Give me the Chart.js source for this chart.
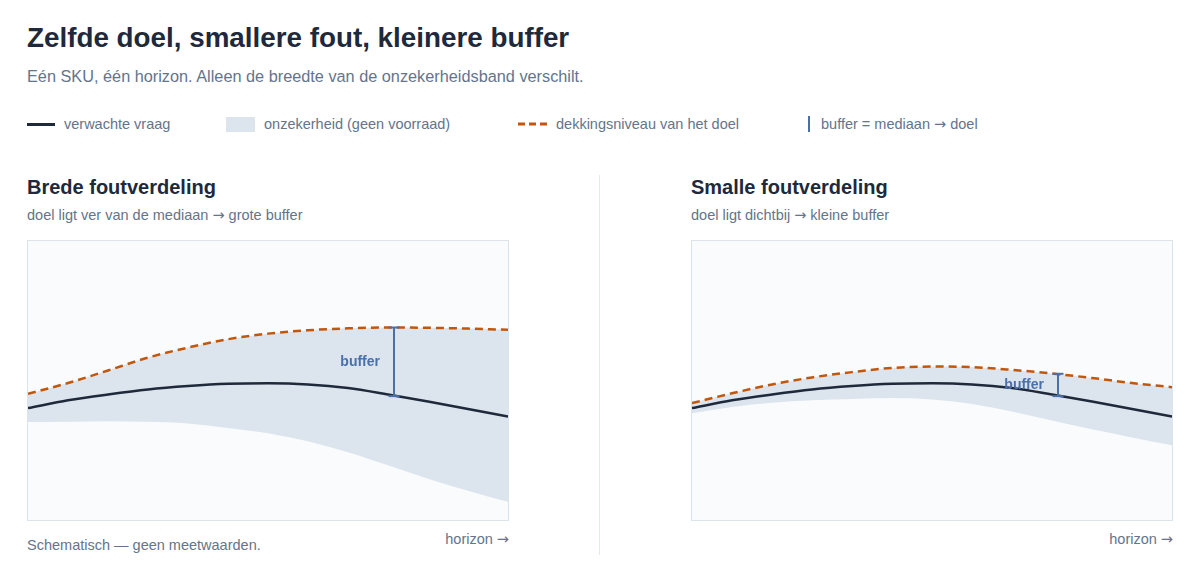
<!DOCTYPE html>
<html lang="nl">
<head>
    <meta charset="UTF-8">
    <title>Zelfde doel, smallere fout, kleinere buffer</title>
    <script src="https://cdn.jsdelivr.net/npm/chart.js"></script>
    <style>
        body {
            margin: 0;
            background: #ffffff;
            font-family: 'Liberation Sans', Arial, Helvetica, sans-serif;
            color: #1e293b;
        }
        .page {
            padding: 21px 27px 0 27px;
        }
        .arr { font-family: 'DejaVu Sans', sans-serif; }
        h1 {
            margin: 0;
            font-size: 27.8px;
            line-height: 34px;
            font-weight: 700;
            color: #1e293b;
        }
        .subtitle {
            margin: 11px 0 0 0;
            font-size: 16.3px;
            line-height: 20px;
            color: #64748b;
        }
        .legend {
            display: flex;
            margin-top: 28px;
            height: 20px;
            font-size: 14.5px;
            line-height: 20px;
            color: #64748b;
        }
        .legend .item {
            display: flex;
            align-items: center;
            gap: 9px;
        }
        .sw-line { width: 28px; height: 3px; background: #1e293b; }
        .sw-band { width: 29px; height: 15px; background: #dce4ed; }
        .sw-bar { width: 2px; height: 16px; background: #4a70aa; margin-right: 3px; }
        .panels {
            display: grid;
            grid-template-columns: 482px 90px 1px 91px 482px;
            margin-top: 41px;
        }
        .divider { grid-column: 3; background: #e2e8f0; }
        .panel.left { grid-column: 1; }
        .panel.right { grid-column: 5; }
        .panel h2 {
            margin: 0;
            font-size: 20px;
            line-height: 24px;
            font-weight: 700;
            color: #1e293b;
        }
        .panel .note {
            margin: 6px 0 0 0;
            font-size: 14.5px;
            line-height: 20px;
            color: #64748b;
        }
        .plot {
            position: relative;
            box-sizing: border-box;
            height: 281px;
            margin-top: 15px;
            border: 1px solid #dde3ea;
            background: #f9fbfd;
        }
        .foot {
            display: flex;
            justify-content: space-between;
            align-items: flex-start;
            margin-top: 8px;
            font-size: 14.5px;
            line-height: 20px;
            color: #64748b;
        }
        .foot .src { padding-top: 6px; }
    </style>
</head>
<body>
<div class="page">
    <h1>Zelfde doel, smallere fout, kleinere buffer</h1>
    <p class="subtitle">Eén SKU, één horizon. Alleen de breedte van de onzekerheidsband verschilt.</p>

    <div class="legend">
        <div class="item" style="width:199px"><span class="sw-line"></span><span>verwachte vraag</span></div>
        <div class="item" style="width:292px"><span class="sw-band"></span><span>onzekerheid (geen voorraad)</span></div>
        <div class="item" style="width:290px">
            <svg width="29" height="4"><line x1="0" y1="2" x2="29" y2="2" stroke="#c2570c" stroke-width="3" stroke-dasharray="7 4"/></svg>
            <span>dekkingsniveau van het doel</span>
        </div>
        <div class="item" style="gap:8px"><span class="sw-bar"></span><span>buffer = mediaan <span class="arr">→</span> doel</span></div>
    </div>

    <div class="panels">
        <div class="panel left">
            <h2>Brede foutverdeling</h2>
            <p class="note">doel ligt ver van de mediaan <span class="arr">→</span> grote buffer</p>
            <div class="plot"><canvas id="wideChart"></canvas></div>
            <div class="foot"><span class="src">Schematisch — geen meetwaarden.</span><span>horizon <span class="arr">→</span></span></div>
        </div>
        <div class="divider"></div>
        <div class="panel right">
            <h2>Smalle foutverdeling</h2>
            <p class="note">doel ligt dichtbij <span class="arr">→</span> kleine buffer</p>
            <div class="plot"><canvas id="narrowChart"></canvas></div>
            <div class="foot"><span></span><span>horizon <span class="arr">→</span></span></div>
        </div>
    </div>
</div>

<script>
    // schematic values (0-100 scale)
    const horizon = [0, 1, 2, 3, 4, 5, 6, 7, 8, 9, 10, 11, 12];
    const median = [40.1, 42.9, 45.0, 46.8, 48.0, 48.8, 49.0, 48.6, 47.3, 45.0, 42.5, 39.8, 37.1];

    const wideTarget = [45.2, 49.1, 53.6, 58.2, 61.8, 64.8, 66.8, 68.0, 68.7, 69.0, 68.9, 68.6, 68.2];
    const wideLow = [35.1, 35.2, 35.4, 35.2, 34.6, 33.0, 31.1, 28.2, 24.3, 19.6, 14.8, 10.5, 6.5];

    const narrowTarget = [41.9, 45.4, 48.6, 51.1, 53.0, 54.5, 55.0, 54.8, 53.8, 52.5, 50.9, 49.1, 47.6];
    const narrowLow = [38.3, 40.5, 42.0, 42.9, 43.4, 43.7, 43.2, 41.6, 38.9, 35.7, 32.5, 29.6, 26.8];

    const bufferAt = 9.15;
    const wideBuffer = [44.4, 69.0];
    const narrowBuffer = [44.4, 52.4];

    const BLUE = '#4a70aa';

    const bufferLabel = {
        id: 'bufferLabel',
        afterDatasetsDraw(chart) {
            const pts = chart.getDatasetMeta(0).data;
            if (pts.length < 2) return;
            const ctx = chart.ctx;
            ctx.save();
            ctx.font = 'bold 14px "Liberation Sans", Arial, sans-serif';
            ctx.fillStyle = BLUE;
            ctx.textAlign = 'right';
            ctx.textBaseline = 'middle';
            ctx.fillText('buffer', pts[0].x - 14, (pts[0].y + pts[1].y) / 2);
            ctx.restore();
        }
    };

    function makeChart(id, target, low, buffer) {
        const ctx = document.getElementById(id).getContext('2d');
        return new Chart(ctx, {
            type: 'line',
            data: {
                labels: horizon,
                datasets: [
                    {
                        label: 'buffer',
                        data: buffer.map(v => ({ x: bufferAt, y: v })),
                        borderColor: BLUE,
                        borderWidth: 2,
                        pointStyle: 'line',
                        pointRadius: 5.5,
                        pointBorderWidth: 2,
                        pointBorderColor: BLUE,
                        fill: false
                    },
                    {
                        label: 'verwachte vraag',
                        data: median,
                        borderColor: '#1e293b',
                        borderWidth: 2.5,
                        pointRadius: 0,
                        cubicInterpolationMode: 'monotone',
                        fill: false
                    },
                    {
                        label: 'dekkingsniveau van het doel',
                        data: target,
                        borderColor: '#c2570c',
                        borderWidth: 2.5,
                        borderDash: [8, 5],
                        pointRadius: 0,
                        cubicInterpolationMode: 'monotone',
                        backgroundColor: '#dce4ed',
                        fill: '+1'
                    },
                    {
                        label: 'onzekerheid',
                        data: low,
                        borderWidth: 0,
                        borderColor: 'rgba(0,0,0,0)',
                        pointRadius: 0,
                        cubicInterpolationMode: 'monotone',
                        fill: false
                    }
                ]
            },
            options: {
                responsive: true,
                maintainAspectRatio: false,
                animation: false,
                events: [],
                layout: { padding: 0, autoPadding: false },
                scales: {
                    x: { type: 'linear', min: 0, max: 12, display: false },
                    y: { min: 0, max: 100, display: false }
                },
                plugins: {
                    legend: { display: false },
                    tooltip: { enabled: false }
                }
            },
            plugins: [bufferLabel]
        });
    }

    makeChart('wideChart', wideTarget, wideLow, wideBuffer);
    makeChart('narrowChart', narrowTarget, narrowLow, narrowBuffer);
</script>
</body>
</html>
